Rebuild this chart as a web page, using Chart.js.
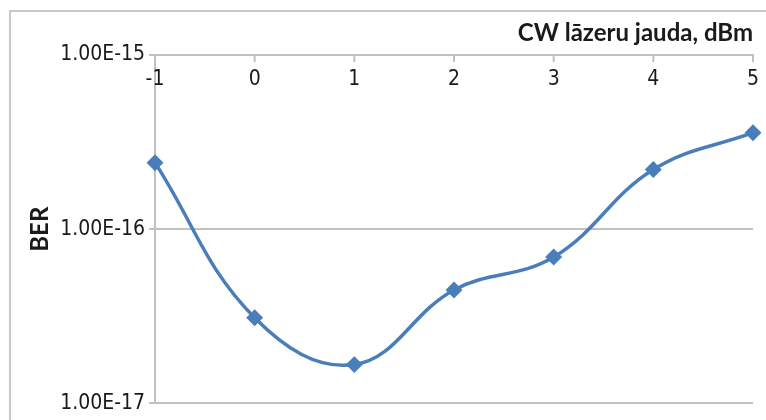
<!DOCTYPE html>
<html>
<head>
<meta charset="utf-8">
<script src="https://cdn.jsdelivr.net/npm/chart.js@4.4.1/dist/chart.umd.min.js"></script>
<style>
    html, body { margin: 0; padding: 0; background: #fff; overflow: hidden; }
    #wrap { position: relative; width: 766px; height: 420px; }
    #frame { position: absolute; left: 9px; top: 10px; width: 900px; height: 600px; border: 2px solid #c8c8c8; }
    canvas { position: absolute; left: 0; top: 0; }
</style>
</head>
<body>
<div id="wrap">
    <div id="frame"></div>
    <canvas id="berChart" width="766" height="420"></canvas>
</div>
<script>
const powerDbm = [-1, 0, 1, 2, 3, 4, 5];
const berValues = [2.41e-16, 3.10e-17, 1.67e-17, 4.48e-17, 6.92e-17, 2.20e-16, 3.58e-16];
const xTicks = [-1, 0, 1, 2, 3, 4, 5];
const yTicks = [1e-17, 1e-16, 1e-15];
const xTitle = 'CW lāzeru jauda, dBm';
const yTitle = 'BER';

const tickFont = { family: '"DejaVu Sans Condensed", "DejaVu Sans", sans-serif', size: 21 };
const titleFont = { family: 'Lato, "Open Sans", sans-serif', size: 24, weight: 'bold' };
const axisGray = '#c0c0c0';
const textColor = '#1a1a1a';

// x ticks sit under the top axis line, inside the plot
const innerTicks = {
    id: 'innerTicks',
    afterDraw(chart) {
        const ctx = chart.ctx;
        const x = chart.scales.x;
        const top = chart.chartArea.top;
        ctx.save();
        ctx.strokeStyle = axisGray;
        ctx.lineWidth = 2;
        ctx.fillStyle = textColor;
        ctx.font = `${tickFont.size}px ${tickFont.family}`;
        ctx.textAlign = 'center';
        ctx.textBaseline = 'middle';
        xTicks.forEach(v => {
            const px = x.getPixelForValue(v);
            ctx.beginPath();
            ctx.moveTo(px, top);
            ctx.lineTo(px, top + 7);
            ctx.stroke();
            ctx.fillText(String(v), px, top + 25);
        });
        ctx.restore();
    }
};

const ctx = document.getElementById('berChart').getContext('2d');
new Chart(ctx, {
    type: 'line',
    data: {
        datasets: [{
            data: powerDbm.map((x, i) => ({ x, y: berValues[i] })),
            borderColor: '#4a7ebb',
            backgroundColor: '#4a7ebb',
            borderWidth: 3.5,
            tension: 0.4,
            pointStyle: 'rectRot',
            pointRadius: 6,
            pointHoverRadius: 6,
            clip: false
        }]
    },
    options: {
        responsive: false,
        animation: false,
        events: [],
        layout: { padding: { left: 14, top: 14, right: 13, bottom: 15 } },
        plugins: { legend: { display: false }, tooltip: { enabled: false } },
        scales: {
            x: {
                type: 'linear',
                position: 'top',
                min: -1,
                max: 5,
                afterFit: s => { s.height = 41; },
                ticks: { display: false },
                grid: { drawOnChartArea: false, drawTicks: false },
                border: { display: true, color: axisGray, width: 2 },
                title: {
                    display: true,
                    text: xTitle,
                    align: 'end',
                    color: textColor,
                    font: titleFont,
                    padding: { top: 5, bottom: 0 }
                }
            },
            y: {
                type: 'logarithmic',
                position: 'left',
                min: 1e-17,
                max: 1e-15,
                afterFit: s => { s.width = 141; },
                afterBuildTicks: s => { s.ticks = yTicks.map(v => ({ value: v })); },
                ticks: {
                    color: textColor,
                    font: tickFont,
                    padding: 4,
                    callback: v => Number(v).toExponential(2).toUpperCase()
                },
                grid: { color: axisGray, lineWidth: 2, tickLength: 6 },
                border: { display: true, color: axisGray, width: 2 },
                title: {
                    display: true,
                    text: yTitle,
                    color: textColor,
                    font: titleFont,
                    padding: { top: 12, bottom: 0 }
                }
            }
        }
    },
    plugins: [innerTicks]
});
</script>
</body>
</html>
